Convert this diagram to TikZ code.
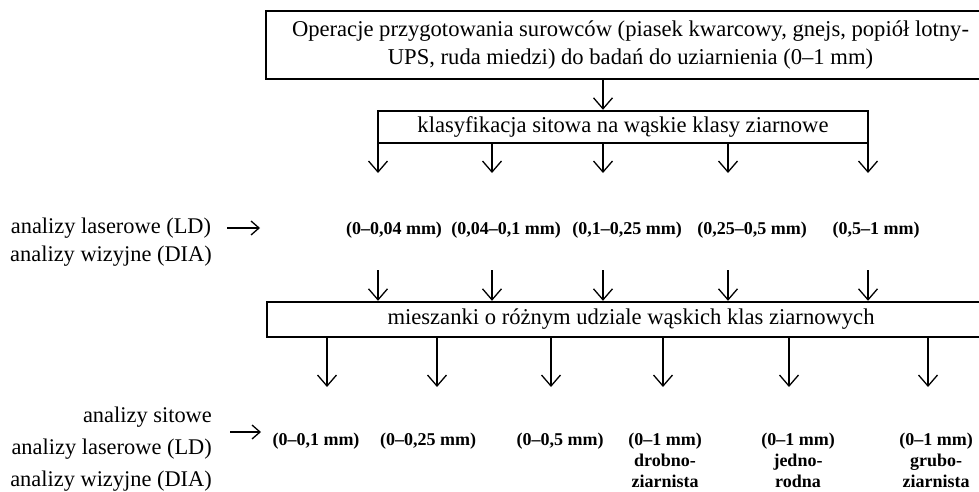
\documentclass[tikz,border=0pt]{standalone}
\usepackage{fontspec}
\setmainfont{Liberation Serif}
\usetikzlibrary{arrows.meta}
\begin{document}
\begin{tikzpicture}[x=1pt,y=-1pt,
  box/.style={draw, line width=2.4pt, inner sep=0pt, font=\fontsize{22.6}{28.5}\selectfont, align=center},
  arr/.style={-{Straight Barb[length=11pt,width=19pt,line width=1.3pt]}, line width=1.3pt},
  sidearr/.style={-{Straight Barb[length=8pt,width=14pt,line width=1.3pt]}, line width=1.3pt},
  rng/.style={font=\bfseries\fontsize{18}{21}\selectfont, align=center, inner sep=0pt, anchor=north},
  lbl/.style={font=\fontsize{22.4}{28}\selectfont, inner sep=0pt}]
\useasboundingbox (0,0) rectangle (979,492);
\clip (0,0) rectangle (979,492);

% boxes
\node[box, minimum width=729pt, minimum height=68pt] (box1) at (630.5,45)
  {Operacje przygotowania surowców (piasek kwarcowy, gnejs, popiół lotny-\\UPS, ruda miedzi) do badań do uziarnienia (0--1 mm)};
\node[box, minimum width=490pt, minimum height=32pt] (box2) at (623,127)
  {klasyfikacja sitowa na wąskie klasy ziarnowe};
\node[box, minimum width=728pt, minimum height=35pt] (box3) at (631,319.5)
  {mieszanki o różnym udziale wąskich klas ziarnowych};

% column coordinates
\coordinate (c0) at (603,0);
\foreach \i/\x in {1/378,2/492,3/603,4/728,5/868}{
  \coordinate (k\i) at (\x,173);
  \coordinate (m\i) at (\x,270);
}
\foreach \i/\x in {1/327,2/437,3/551,4/663,5/789,6/928}{
  \coordinate (b\i) at (\x,387);
}

% arrows
\draw[arr] (box1.south -| c0) -- (box2.north -| c0);
\foreach \i in {1,...,5}{
  \draw[arr] (box2.south -| k\i) -- (k\i);
  \draw[arr] (m\i) -- (box3.north -| m\i);
}
\foreach \i in {1,...,6}{
  \draw[arr] (box3.south -| b\i) -- (b\i);
}

% narrow classes
\node[rng] (r1) at (394,222) {(0--0,04 mm)};
\node[rng] (r2) at (506,222) {(0,04--0,1 mm)};
\node[rng] (r3) at (627,222) {(0,1--0,25 mm)};
\node[rng] (r4) at (752,222) {(0,25--0,5 mm)};
\node[rng] (r5) at (876,222) {(0,5--1 mm)};

% mixtures
\node[rng] (p1) at (316,433) {(0--0,1 mm)};
\node[rng] (p2) at (428,433) {(0--0,25 mm)};
\node[rng] (p3) at (560,433) {(0--0,5 mm)};
\node[rng] (p4) at (665,433) {(0--1 mm)\\drobno-\\ziarnista};
\node[rng] (p5) at (798,433) {(0--1 mm)\\jedno-\\rodna};
\node[rng] (p6) at (936,433) {(0--1 mm)\\grubo-\\ziarnista};

% side labels
\node[lbl, align=center] (L1) at (111,242) {analizy laserowe (LD)\\analizy wizyjne (DIA)};
\node[lbl, align=right, anchor=east, font=\fontsize{22.4}{32}\selectfont] (L2) at (212,449)
  {analizy sitowe\\analizy laserowe (LD)\\analizy wizyjne (DIA)};
\coordinate (s1a) at (227,228);
\coordinate (s1b) at (260,228);
\coordinate (s2a) at (230,432);
\coordinate (s2b) at (261,432);
\draw[sidearr] (s1a) -- (s1b);
\draw[sidearr] (s2a) -- (s2b);
\end{tikzpicture}
\end{document}
